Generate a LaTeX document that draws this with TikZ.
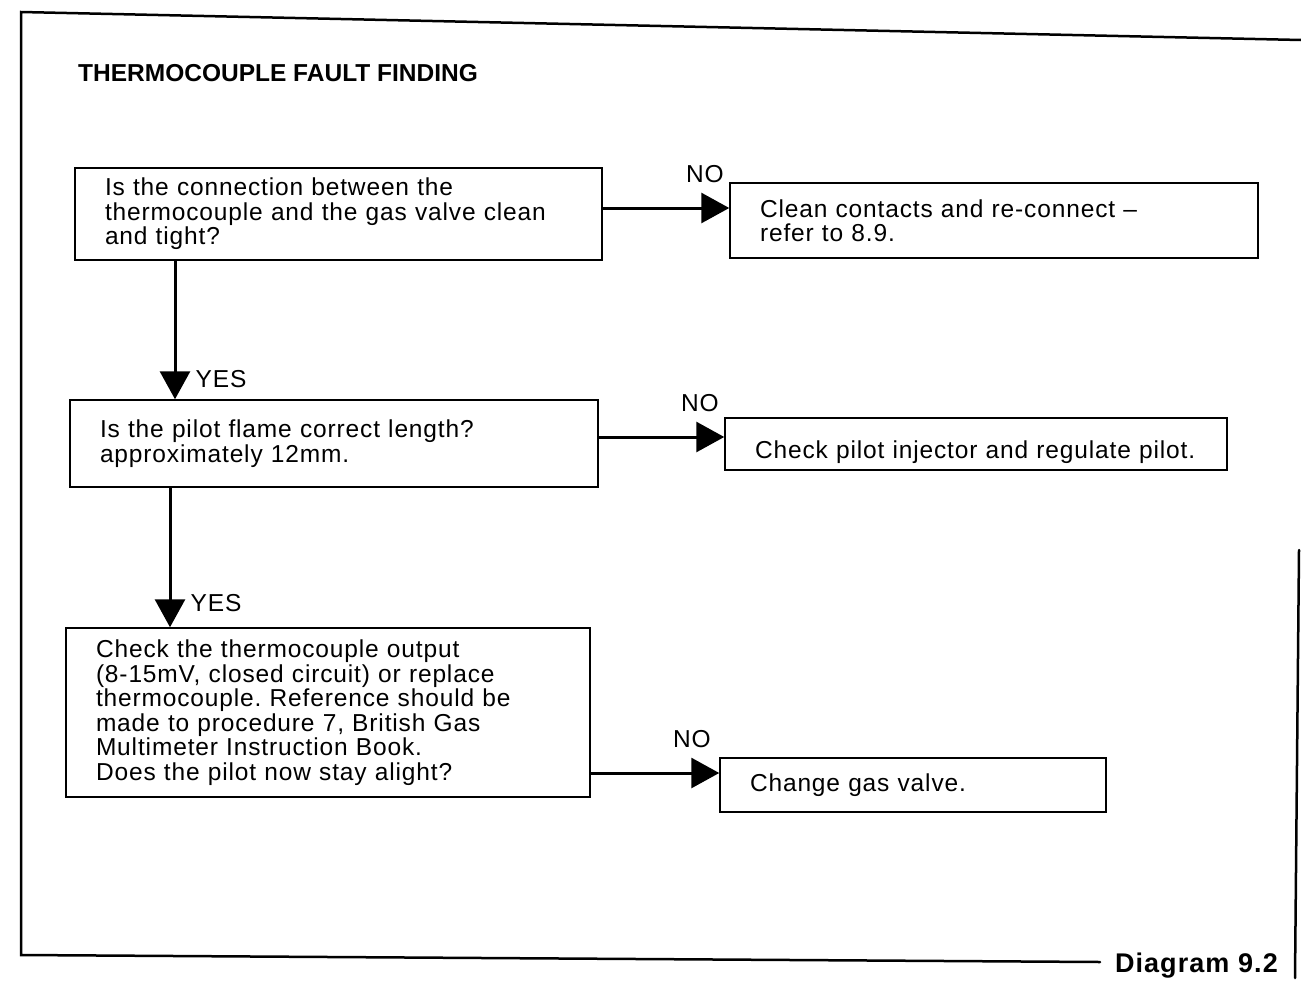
\documentclass[tikz,border=0pt]{standalone}
\usepackage{fontspec}
\setmainfont{Liberation Sans}
\newfontfamily\bodyfont{Liberation Sans}[LetterSpace=3.5]
\newfontfamily\capfont{Liberation Sans Bold}[LetterSpace=4]
\newfontfamily\headfont{Liberation Sans Bold}
\usetikzlibrary{arrows.meta}
\frenchspacing
\begin{document}
\begin{tikzpicture}[x=1pt,y=-1pt,
  txt/.style={font=\bodyfont\fontsize{24.5}{24.5}\selectfont},
  box/.style={txt, draw, line width=1.5pt, align=left, inner xsep=30pt, inner ysep=0pt},
  flow/.style={line width=3pt, -{Triangle[length=28pt,width=30pt]}},
  lbl/.style={txt, inner sep=0pt},
  frame/.style={line width=2.5pt, line cap=round}]
\useasboundingbox (0,0) rectangle (1301,980);
% frame
\draw[frame] (1301,40) -- (21,12) -- (21,955) -- (1100,962);
\draw[frame] (1299,550) -- (1295,978);
% title
\node[font=\headfont\fontsize{24.5}{28}\selectfont, anchor=base west, inner sep=0pt] (title) at (78,81) {THERMOCOUPLE FAULT FINDING};
% boxes
\node[box, text width=467pt, minimum height=92pt] (q1) at (338.5,214)
  {Is the connection between the\\thermocouple and the gas valve clean\\and tight?};
\node[box, text width=468pt, minimum height=75pt] (a1) at (994,220.5)
  {Clean contacts and re-connect –\\refer to 8.9.};
\node[box, text width=468pt, minimum height=87pt] (q2) at (334,443.5)
  {Is the pilot flame correct length?\\approximately 12mm.};
\node[box, text width=442pt, text height=34pt, minimum height=52pt] (a2) at (976,444)
  {Check pilot injector and regulate pilot.};
\node[box, text width=326pt, minimum height=54pt] (a3) at (913,785)
  {Change gas valve.};
\node[box, text width=464pt, minimum height=169pt] (q3) at (328,712.5)
  {Check the thermocouple output\\(8-15mV, closed circuit) or replace\\thermocouple. Reference should be\\made to procedure 7, British Gas\\Multimeter Instruction Book.\\Does the pilot now stay alight?};
% connectors
\draw[flow] ([yshift=6pt]q1.east) -- ([yshift=6pt]q1.east -| a1.west);
\draw[flow] ([yshift=6.5pt]q2.east) -- ([yshift=6.5pt]q2.east -| a2.west);
\draw[flow] ([yshift=-60.5pt]q3.east) -- ([yshift=-60.5pt]q3.east -| a3.west);
\draw[flow] ([xshift=-163.5pt]q1.south) -- ([xshift=-163.5pt]q1.south |- q2.north);
\draw[flow] ([xshift=-164pt]q2.south) -- ([xshift=-164pt]q2.south |- q3.north);
% labels
\node[lbl] (no1) at (705,174) {NO};
\node[lbl] (no2) at (700,403) {NO};
\node[lbl] (no3) at (692,739) {NO};
\node[lbl] (yes1) at (221,379) {YES};
\node[lbl] (yes2) at (216,603) {YES};
\node[font=\capfont\fontsize{27}{28}\selectfont, anchor=base east, inner sep=0pt] (diag) at (1278,972) {Diagram 9.2};
\end{tikzpicture}
\end{document}
